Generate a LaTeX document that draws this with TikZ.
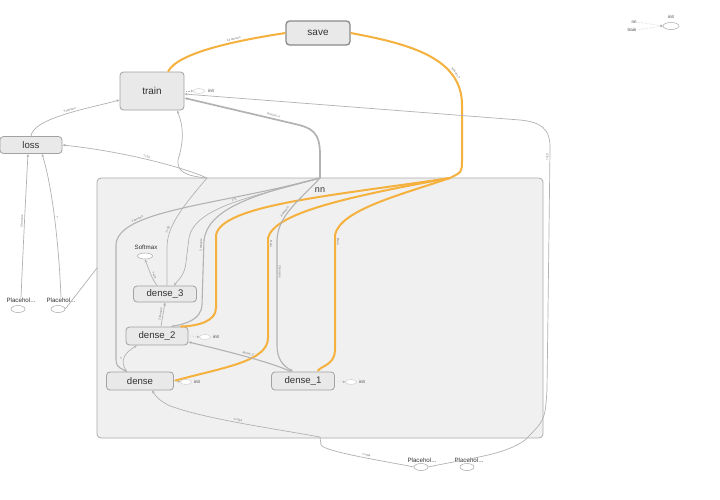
\documentclass[tikz,border=0pt]{standalone}
\usepackage{fontspec}
\setmainfont{Liberation Sans}
\usetikzlibrary{arrows.meta,shapes.geometric,calc}
\definecolor{nodefill}{HTML}{E9E9E9}
\definecolor{nodedraw}{HTML}{A2A2A2}
\definecolor{savedraw}{HTML}{8A8A8A}
\definecolor{nnfill}{HTML}{F0F0F0}
\definecolor{nndraw}{HTML}{ABABAB}
\definecolor{orangec}{HTML}{F5B13E}
\definecolor{edgegray}{HTML}{B2B2B2}
\definecolor{lblgray}{HTML}{6A6A6A}
\begin{document}
\begin{tikzpicture}[x=1pt,y=-1pt,
  opnode/.style={draw=nodedraw,fill=nodefill,rounded corners=3.5,line width=0.8,inner sep=0,font=\fontsize{9.6}{10}\selectfont,text=black!80},
  nnbox/.style={draw=nndraw,fill=nnfill,rounded corners=4,line width=0.8,inner sep=0},
  lbl/.style={font=\fontsize{3}{3}\selectfont,text=lblgray,inner sep=0.6},
  small/.style={font=\fontsize{6.2}{7}\selectfont,text=black!80,inner sep=0},
  initfont/.style={font=\fontsize{4.5}{5}\selectfont,text=black!75,inner sep=0},
  inell/.style={ellipse,draw=gray!70,fill=white,line width=0.5,inner sep=0,minimum width=14,minimum height=7},
  initell/.style={ellipse,draw=gray!45,fill=white,line width=0.4,inner sep=0,minimum width=11,minimum height=5},
  gthin/.style={draw=edgegray,line width=0.7},
  gmed/.style={draw=edgegray,line width=1.1},
  gthick/.style={draw=edgegray,line width=1.7},
  oedge/.style={draw=orangec,line width=2},
  arr/.style={-{Stealth[length=3.2pt,width=2.6pt]}},
  ctrl/.style={draw=gray!60,line width=0.4,densely dotted,-{Triangle[open,length=2.2pt,width=2.4pt]}}
]
\useasboundingbox[fill=white] (0,0) rectangle (720,499);

% container
\node[nnbox,minimum width=446,minimum height=260] (nn) at (320,308) {};
\node[font=\fontsize{9}{9}\selectfont,text=black!80,inner sep=0] (nnlabel) at (320,190) {nn};
\coordinate (nntop) at (320,178);
\coordinate (nnor) at (450,178);
\coordinate (J) at (207,178);
\coordinate (P) at (320,437);
\coordinate (nnin) at (97,268);

% op nodes
\node[opnode,draw=savedraw,line width=1.3,minimum width=64,minimum height=24,font=\fontsize{10}{10}\selectfont] (save) at (318,33) {save};
\node[opnode,minimum width=64,minimum height=38,font=\fontsize{10}{10}\selectfont] (train) at (152,91) {train};
\node[opnode,minimum width=62,minimum height=17] (loss) at (31,145) {loss};
\node[opnode,minimum width=63,minimum height=16] (dense3) at (165,294) {dense\_3};
\node[opnode,minimum width=62,minimum height=18] (dense2) at (157,336) {dense\_2};
\node[opnode,minimum width=67,minimum height=18] (dense) at (140,381) {dense};
\node[opnode,minimum width=63,minimum height=18] (dense1) at (303,381) {dense\_1};

% small nodes
\node[small] (softl) at (146,247) {Softmax};
\node[inell,minimum width=15,minimum height=6] (soft) at (145,256) {};
\node[small] (ph1l) at (21,300) {Placehol...};
\node[inell] (ph1) at (18,309) {};
\node[small] (ph2l) at (61,300) {Placehol...};
\node[inell] (ph2) at (58,309) {};
\node[small] (ph3l) at (422,460) {Placehol...};
\node[inell] (ph3) at (421,467) {};
\node[small] (ph4l) at (469,460) {Placehol...};
\node[inell] (ph4) at (467,467) {};

% orange edges
\draw[oedge] (save.west) .. controls (240,40) and (178,52) .. ($(train.north)+(16,0)$)
  node[lbl,sloped,pos=0.35,above=0.6] {24 tensors};
\draw[oedge] (save.east) .. controls (410,44) and (462,58) .. (462,105)
  node[lbl,sloped,pos=0.75,above=0.6] {tensors\_n}
  -- (462,160) .. controls (462,172) .. (nnor);
\draw[oedge,arr] (nnor) .. controls (330,196) and (222,205) .. (216,235) -- (216,308) .. controls (216,322) and (196,326) .. ($(dense2.north east)+(-9,0)$);
\draw[oedge,arr] (nnor) .. controls (340,198) and (274,214) .. (268,238) -- (268,338)
  node[lbl,sloped,pos=0.06,above=0.6] {Relu}
  .. controls (268,362) and (220,368) .. (dense.east);
\draw[oedge,arr] (nnor) .. controls (400,195) and (340,210) .. (335,235) -- (335,350)
  node[lbl,sloped,pos=0.06,above=0.6] {Relu}
  .. controls (335,364) and (322,366) .. ($(dense1.north)+(14,0)$);

% gray edges from nn
\draw[gthick,arr] (nntop) -- (320,155) .. controls (320,132) and (312,128) .. (295,124) -- ($(train.east)+(0,7)$)
  node[lbl,sloped,pos=0.2,above=0.6] {tensors\_n};
\draw[gmed,arr] (nntop) .. controls (220,205) and (117,210) .. (116,245)
  node[lbl,sloped,pos=0.72,above=0.6] {2 tensors}
  -- (116,355) .. controls (116,366) .. ($(dense.north)+(-13,0)$);
\draw[gthin,arr] (nntop) .. controls (262,195) and (195,205) .. (189,238)
  node[lbl,sloped,pos=0.5,above=0.6] {1×1}
  -- (186,262) .. controls (185,275) and (178,280) .. ($(dense3.north)+(9,0)$);
\draw[gmed,arr] (nntop) .. controls (250,195) and (208,210) .. (204,240)
  -- (202,305)
  node[lbl,sloped,pos=0.08,above=0.6] {2 tensors}
  .. controls (201,320) and (185,324) .. ($(dense2.north)+(14,0)$);
\draw[gmed,arr] (nntop) .. controls (300,200) and (278,215) .. (277,240)
  node[lbl,sloped,pos=0.6,above=0.6] {4 tensors}
  -- (277,345)
  node[lbl,sloped,pos=0.3,above=0.6] {2 tensors}
  .. controls (277,364) and (288,368) .. ($(dense1.north)+(-10,0)$);

% within nn
\draw[gmed,arr] ($(dense1.north)+(-12,0)$) .. controls (270,362) and (230,352) .. ($(dense2.east)+(0,6)$)
  node[lbl,sloped,pos=0.5,above=0.6] {kernel\_2};
\draw[gthin,arr] ($(dense2.north)+(4,0)$) -- ($(dense3.south)+(0,0)$)
  node[lbl,sloped,pos=0.5,above=0.6] {2 tensors};
\draw[gthin,arr] ($(dense.north)+(-13,0)$) .. controls (118,360) and (126,352) .. ($(dense2.south)+(-20,0)$)
  node[lbl,sloped,pos=0.4,above=0.6] {?};
\draw[gthin,arr] ($(dense3.north)+(-8,0)$) .. controls (152,278) .. (soft.south)
  node[lbl,sloped,pos=0.5,above=0.6] {?×10};
\draw[gthin] ($(dense3.north)+(2,0)$) -- (167,248) .. controls (167,228) and (178,212) .. (J)
  node[lbl,sloped,pos=0.3,above=0.6] {?×10};
\draw[gthin,arr] (J) .. controls (180,166) and (120,151) .. (loss.east)
  node[lbl,sloped,pos=0.5,above=0.6] {?×10};
\draw[gthin,arr] (J) .. controls (186,176) and (177,172) .. (178,160) .. controls (186,135) and (181,120) .. ($(train.south)+(25,0)$);

% placeholders
\draw[gthin,arr] (ph1l.north) .. controls (23,250) and (26,190) .. ($(loss.south)+(-3,0)$)
  node[lbl,sloped,pos=0.5,above=0.6] {2 tensors};
\draw[gthin,arr] (ph2l.north) .. controls (59,245) and (52,185) .. ($(loss.south)+(11,0)$)
  node[lbl,sloped,pos=0.5,above=0.6] {?};
\draw[gthin] (ph2.east) -- (nnin);
\draw[gthin,arr] (ph3.west) .. controls (390,462) and (325,452) .. (321,445)
  node[lbl,sloped,pos=0.45,above=0.6] {?×784}
  -- (P) .. controls (270,428) and (200,418) .. (168,405)
  node[lbl,sloped,pos=0.5,above=0.6] {?×784}
  .. controls (158,399) .. ($(dense.south)+(12,0)$);
\draw[gthin,arr] (ph3.east) .. controls (470,458) and (505,455) .. (525,440) .. controls (545,420) .. (547,390) -- (550,150)
  node[lbl,sloped,pos=0.97,above=0.6] {?×10}
  .. controls (551,128) and (540,122) .. (520,120) -- ($(train.east)+(0,3)$);
\draw[gthin,arr] (loss.north) .. controls (33,118) and (90,108) .. ($(train.west)+(0,9)$)
  node[lbl,sloped,pos=0.55,above=0.6] {5 tensors};

% init annotations
\node[initell] (tinit) at (199,91) {};
\node[initfont] (tinitl) at (211,91) {init};
\draw[ctrl] ($(train.east)+(2,0)$) -- (tinit.west);
\node[initell] (d2init) at (205,337) {};
\node[initfont] (d2initl) at (216,337) {init};
\draw[ctrl] ($(dense2.east)+(2,0)$) -- (d2init.west);
\node[initell] (dinit) at (186,382) {};
\node[initfont] (dinitl) at (197,382) {init};
\draw[ctrl] ($(dense.east)+(2,0)$) -- (dinit.west);
\node[initell] (d1init) at (351,382) {};
\node[initfont] (d1initl) at (362,382) {init};
\draw[ctrl] ($(dense1.east)+(2,0)$) -- (d1init.west);

% legend
\node[initfont] (lgnn) at (634,22) {nn};
\node[initfont] (lgtrain) at (632,30) {train};
\node[ellipse,draw=gray!70,fill=white,line width=0.5,inner sep=0,minimum width=16,minimum height=7] (lginit) at (671,26) {};
\node[initfont] (lginitl) at (671,17) {init};
\draw[ctrl] (lgnn.east) -- (lginit.west);
\draw[ctrl] (lgtrain.east) -- (lginit.west);
\end{tikzpicture}
\end{document}
